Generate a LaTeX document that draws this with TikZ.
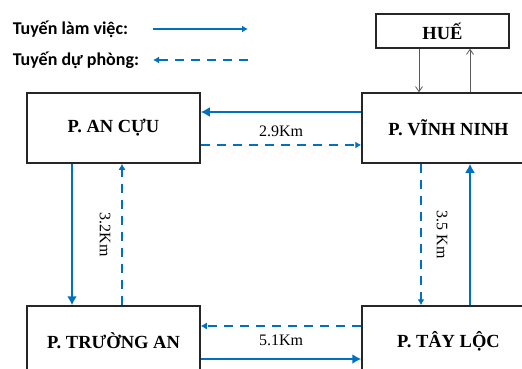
\documentclass[tikz,border=0pt]{standalone}
\usepackage{fontspec}
\setmainfont{Liberation Serif}
\newfontfamily\legendfont{Carlito}
\usetikzlibrary{arrows.meta}

\definecolor{tuyenblue}{RGB}{0,112,192}

\begin{document}
\begin{tikzpicture}[x=1pt,y=-1pt,line width=1.5pt,>={Latex[length=9pt,width=10pt]},
  phuong/.style={draw=black!85,line width=1.5pt,minimum width=173pt,minimum height=70pt,font=\fontsize{18.5}{20}\selectfont\bfseries},
  chinh/.style={tuyenblue,line width=2.4pt,->},
  duphong/.style={tuyenblue,line width=2.2pt,dash pattern=on 9pt off 7pt,-{Latex[length=6pt,width=7pt]}},
  ketnoi/.style={black!65,line width=0.8pt,-{Straight Barb[length=5pt,width=7pt]}},
  khoangcach/.style={font=\fontsize{16}{18}\selectfont,text=black},
  chuthich/.style={anchor=west,inner sep=0pt,font=\legendfont\fontsize{18}{20}\selectfont\bfseries}]
  \useasboundingbox (0,0) rectangle (522,369);
  \clip (0,0) rectangle (522,369);
  % chu thich
  \node[chuthich] (lglam) at (12,29) {Tuyến làm việc:};
  \node[chuthich] (lgdu) at (12,60) {Tuyến dự phòng:};
  \coordinate (lglama) at (153,29);
  \coordinate (lglamb) at (248,29);
  \coordinate (lgdua) at (153,60);
  \coordinate (lgdub) at (248,60);
  \draw[chinh,line width=1.8pt,-{Latex[length=6pt,width=7pt]}] (lglama)--(lglamb);
  \draw[duphong] (lgdub)--(lgdua);
  % cac phuong
  \node[phuong,minimum width=133pt,minimum height=34pt] (hue) at (442.5,31) {HUẾ};
  \node[phuong] (ancuu) at (113.5,128) {P. AN CỰU};
  \node[phuong] (vinhninh) at (448.5,128) {P. VĨNH NINH};
  \node[phuong] (truongan) at (113.5,341) {P. TRƯỜNG AN};
  \node[phuong] (tayloc) at (448.5,341) {P. TÂY LỘC};
  % an cuu - vinh ninh
  \draw[chinh] ([yshift=16pt]vinhninh.west)--([yshift=16pt]ancuu.east);
  \draw[duphong] ([yshift=-17pt]ancuu.east)--([yshift=-17pt]vinhninh.west) node[midway,above=4pt,khoangcach]{2.9Km};
  % an cuu - truong an
  \draw[chinh] ([xshift=-41.5pt]ancuu.south)--([xshift=-41.5pt]truongan.north);
  \draw[duphong] ([xshift=8.5pt]truongan.north)--([xshift=8.5pt]ancuu.south) node[midway,xshift=-17pt,rotate=-90,khoangcach]{3.2Km};
  % vinh ninh - tay loc
  \draw[duphong] ([xshift=-27.5pt]vinhninh.south)--([xshift=-27.5pt]tayloc.north) node[midway,xshift=21pt,rotate=-90,khoangcach]{3.5 Km};
  \draw[chinh] ([xshift=21.5pt]tayloc.north)--([xshift=21.5pt]vinhninh.south);
  % truong an - tay loc
  \draw[duphong] ([yshift=15pt]tayloc.west)--([yshift=15pt]truongan.east);
  \draw[chinh] ([yshift=-18pt]truongan.east)--([yshift=-18pt]tayloc.west) node[midway,above=9pt,khoangcach]{5.1Km};
  % hue
  \draw[ketnoi] ([xshift=-23.5pt]hue.south)--([xshift=-23.5pt]hue.south|-vinhninh.north);
  \draw[ketnoi] ([xshift=27.5pt]hue.south|-vinhninh.north)--([xshift=27.5pt]hue.south);
\end{tikzpicture}
\end{document}
